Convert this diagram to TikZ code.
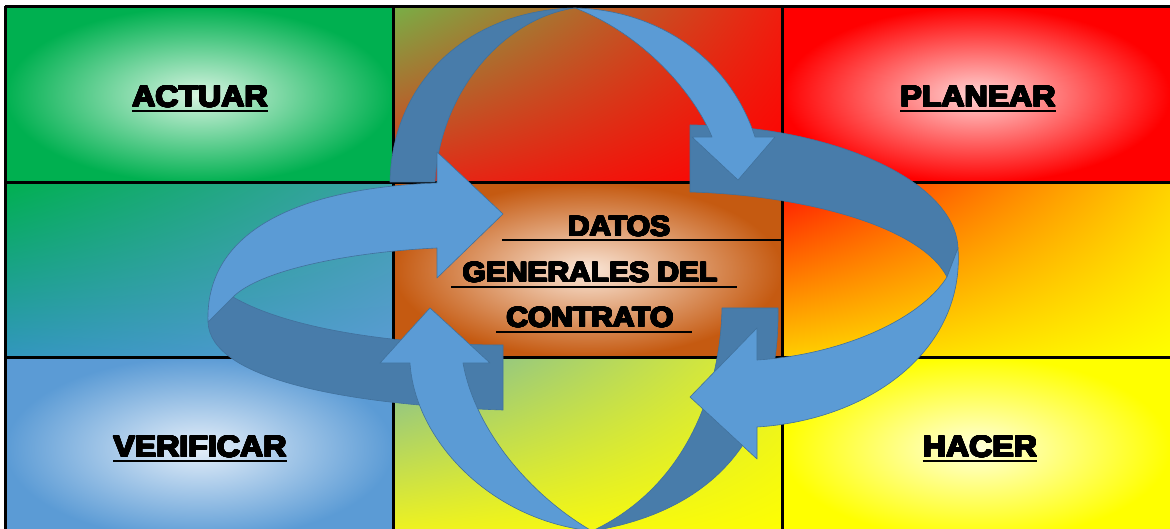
\documentclass[tikz,border=0pt]{standalone}
\usepackage{fontspec}
\usepackage{contour}
\usetikzlibrary{shadings}
\newfontfamily\heavyfont{Liberation Sans}[FakeStretch=1.07]
\contourlength{0.8pt}
\contournumber{24}
\newcommand{\heavy}[1]{\contour{black}{#1}}

\definecolor{actgreen}{RGB}{0,176,80}
\definecolor{actglow}{RGB}{215,244,225}
\definecolor{planred}{RGB}{255,0,0}
\definecolor{planglow}{RGB}{255,212,212}
\definecolor{verblue}{RGB}{91,155,213}
\definecolor{verglow}{RGB}{228,238,249}
\definecolor{hacyellow}{RGB}{255,255,0}
\definecolor{hacglow}{RGB}{255,255,220}
\definecolor{datbrown}{RGB}{197,90,17}
\definecolor{datglow}{RGB}{250,230,215}
\definecolor{olivetop}{RGB}{120,175,70}
\definecolor{redtop}{RGB}{240,30,15}
\definecolor{redlow}{RGB}{225,45,25}
\definecolor{tealtop}{RGB}{60,160,170}
\definecolor{teallow}{RGB}{50,150,190}
\definecolor{orangered}{RGB}{255,20,0}
\definecolor{ambertop}{RGB}{255,210,0}
\definecolor{amberlow}{RGB}{255,205,0}
\definecolor{sagetop}{RGB}{120,185,160}
\definecolor{limetop}{RGB}{230,240,40}
\definecolor{limelow}{RGB}{245,245,25}
\definecolor{bandfront}{RGB}{91,155,213}
\definecolor{bandback}{RGB}{72,124,170}
\definecolor{bandline}{RGB}{65,113,156}

\tikzset{
  gridline/.style={line width=3pt, black},
  uline/.style={line width=2.6pt, black},
  celllabel/.style={font=\heavyfont\bfseries\fontsize{30}{36}\selectfont, inner sep=0pt, anchor=base},
  datlabel/.style={font=\heavyfont\bfseries\fontsize{28}{34}\selectfont, inner sep=0pt, anchor=base},
  backband/.style={fill=bandback, draw=bandline, line width=0.6pt, line join=round},
  frontband/.style={fill=bandfront, draw=bandline, line width=0.6pt, line join=round}
}

\begin{document}
\begin{tikzpicture}[x=1pt,y=-1pt]
  \useasboundingbox (0,0) rectangle (1170,529);
  \clip (0,0) rectangle (1170,529);

  % cells
  \shade[inner color=actglow, outer color=actgreen] (5,7) rectangle (393,183);
  \shade[upper left=olivetop, upper right=redtop, lower left=redlow, lower right=planred] (393,7) rectangle (782,183);
  \shade[inner color=planglow, outer color=planred] (782,7) rectangle (1170,183);
  \shade[upper left=actgreen, upper right=tealtop, lower left=teallow, lower right=verblue] (5,183) rectangle (393,357);
  \shade[inner color=datglow, outer color=datbrown] (393,183) rectangle (782,357);
  \shade[upper left=orangered, upper right=ambertop, lower left=amberlow, lower right=hacyellow] (782,183) rectangle (1170,357);
  \shade[inner color=verglow, outer color=verblue] (5,357) rectangle (393,540);
  \shade[upper left=sagetop, upper right=limetop, lower left=limelow, lower right=hacyellow] (393,357) rectangle (782,540);
  \shade[inner color=hacglow, outer color=hacyellow] (782,357) rectangle (1170,540);

  \draw[gridline] (5,7) -- (1175,7);
  \draw[gridline] (5,183) -- (1175,183);
  \draw[gridline] (5,357) -- (1175,357);
  \draw[gridline] (5,6) -- (5,540);
  \draw[gridline] (393,6) -- (393,540);
  \draw[gridline] (782,6) -- (782,540);

  % labels
  \node[celllabel] (actuar) at (200,107) {\heavy{ACTUAR}};
  \node[celllabel] (planear) at (978,107) {\heavy{PLANEAR}};
  \node[celllabel] (verificar) at (200,457) {\heavy{VERIFICAR}};
  \node[celllabel] (hacer) at (980,457) {\heavy{HACER}};
  \foreach \n in {actuar,planear,verificar,hacer}
    \draw[uline] ([yshift=-4pt]\n.base west) -- ([yshift=-4pt]\n.base east);

  \node[datlabel] (datos) at (619,236) {\heavy{DATOS}};
  \node[datlabel] (generales) at (590,282) {\heavy{GENERALES DEL}};
  \node[datlabel] (contrato) at (590,327) {\heavy{CONTRATO}};
  \draw[uline] (502,240) -- (782,240);
  \draw[uline] (451,287) -- (737,287);
  \draw[uline] (496,332) -- (692,332);

  % arrows, back faces
  \path[backband] (390,182) .. controls (392,80) and (470,10) .. (575,8)
    .. controls (505,18) and (440,90) .. (435,182) -- cycle;
  \path[backband] (690,125) .. controls (830,125) and (955,180) .. (958,248)
    -- (947,277) .. controls (920,225) and (800,195) .. (690,192) -- cycle;
  \path[backband] (778,308) .. controls (780,430) and (720,510) .. (592,531)
    .. controls (680,490) and (720,400) .. (722,308) -- cycle;
  \path[backband] (503,410) .. controls (350,405) and (210,380) .. (208,322)
    -- (233,297) .. controls (290,330) and (400,345) .. (503,345) -- cycle;

  % arrows, front faces
  \path[frontband] (575,8) .. controls (660,10) and (730,60) .. (755,137)
    -- (775,137) -- (738,180) -- (692,137) -- (712,137)
    .. controls (695,95) and (645,35) .. (575,8) -- cycle;
  \path[frontband] (958,248) .. controls (965,350) and (870,420) .. (757,427)
    -- (757,459) -- (690,397) -- (757,328) -- (757,360)
    .. controls (840,355) and (920,320) .. (947,277) -- cycle;
  \path[frontband] (592,531) .. controls (490,520) and (415,440) .. (410,363)
    -- (380,363) -- (430,308) -- (490,363) -- (463,363)
    .. controls (475,430) and (530,495) .. (592,531) -- cycle;
  \path[frontband] (208,322) .. controls (205,230) and (300,188) .. (437,183)
    -- (437,152) -- (503,214) -- (437,278) -- (437,248)
    .. controls (350,252) and (260,270) .. (233,297) -- cycle;
\end{tikzpicture}
\end{document}
